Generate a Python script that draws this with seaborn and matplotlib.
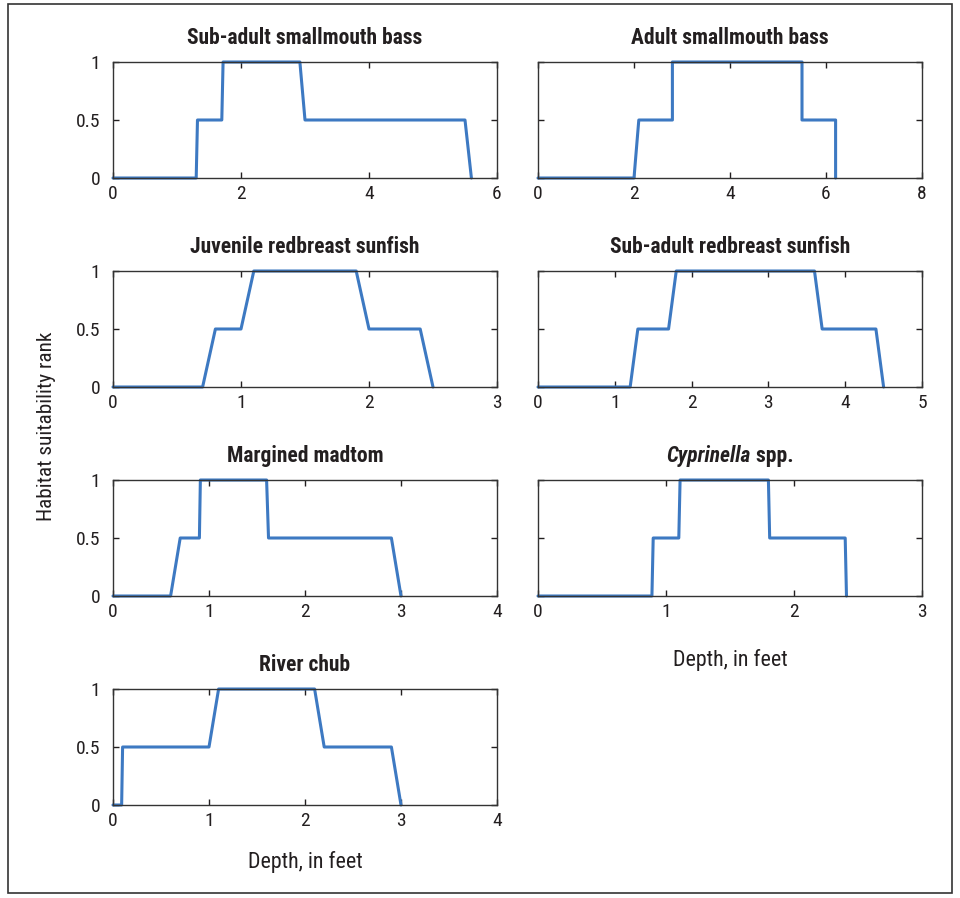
import matplotlib
matplotlib.use("Agg")
import matplotlib.pyplot as plt
import seaborn as sns
import pandas as pd
from matplotlib.patches import Rectangle

sns.set_theme(style="white")
plt.rcParams['font.family'] = ['Roboto Condensed', 'DejaVu Sans']

titles = ["Sub-adult smallmouth bass", "Adult smallmouth bass",
          "Juvenile redbreast sunfish", "Sub-adult redbreast sunfish",
          "Margined madtom", "Cyprinella| spp.", "River chub"]

sub_sm_bass_x = [0, 1.3, 1.32, 1.7, 1.72, 2.92, 3.0, 5.5, 5.6]
sub_sm_bass_y = [0, 0, 0.5, 0.5, 1, 1, 0.5, 0.5, 0]
adult_sm_bass_x = [0, 2.0, 2.1, 2.8, 2.8, 5.5, 5.5, 6.2, 6.2]
adult_sm_bass_y = [0, 0, 0.5, 0.5, 1, 1, 0.5, 0.5, 0]
juv_redbreast_x = [0, 0.7, 0.8, 1.0, 1.1, 1.9, 2.0, 2.4, 2.5]
juv_redbreast_y = [0, 0, 0.5, 0.5, 1, 1, 0.5, 0.5, 0]
sub_redbreast_x = [0, 1.2, 1.3, 1.7, 1.8, 3.6, 3.7, 4.4, 4.5]
sub_redbreast_y = [0, 0, 0.5, 0.5, 1, 1, 0.5, 0.5, 0]
madtom_x = [0, 0.6, 0.7, 0.9, 0.91, 1.6, 1.62, 2.9, 3.0]
madtom_y = [0, 0, 0.5, 0.5, 1, 1, 0.5, 0.5, 0]
cyprinella_x = [0, 0.89, 0.9, 1.1, 1.11, 1.8, 1.81, 2.4, 2.41]
cyprinella_y = [0, 0, 0.5, 0.5, 1, 1, 0.5, 0.5, 0]
river_chub_x = [0, 0.09, 0.1, 1.0, 1.1, 2.1, 2.2, 2.9, 3.0]
river_chub_y = [0, 0, 0.5, 0.5, 1, 1, 0.5, 0.5, 0]

xmaxes = [6, 8, 3, 5, 4, 3, 4]
xticks_list = [[0, 2, 4, 6], [0, 2, 4, 6, 8], [0, 1, 2, 3], [0, 1, 2, 3, 4, 5],
               [0, 1, 2, 3, 4], [0, 1, 2, 3], [0, 1, 2, 3, 4]]
series = [(sub_sm_bass_x, sub_sm_bass_y), (adult_sm_bass_x, adult_sm_bass_y),
          (juv_redbreast_x, juv_redbreast_y), (sub_redbreast_x, sub_redbreast_y),
          (madtom_x, madtom_y), (cyprinella_x, cyprinella_y), (river_chub_x, river_chub_y)]

W, H = 960, 898
fig = plt.figure(figsize=(9.6, 8.98), dpi=100)
fig.patches.append(Rectangle((8 / W, 1 - 893 / H), 944 / W, 889 / H, transform=fig.transFigure,
                             fill=False, edgecolor="#333333", linewidth=1.2))

lefts = [113, 538]
tops = [62, 271, 480, 689]
aw, ah = 384, 116
color = "#3d79c2"
tc = "#231f20"
tfs = 15.5

renderer = fig.canvas.get_renderer()
for i, (title, (xs, ys)) in enumerate(zip(titles, series)):
    r, c = divmod(i, 2)
    L, T = lefts[c], tops[r]
    ax = fig.add_axes([L / W, 1 - (T + ah) / H, aw / W, ah / H])
    df = pd.DataFrame({"x": xs, "y": ys})
    sns.lineplot(data=df, x="x", y="y", ax=ax, sort=False, color=color, linewidth=2.2,
                 clip_on=False, estimator=None)
    ax.set_xlim(0, xmaxes[i])
    ax.set_ylim(0, 1)
    ax.set_xticks(xticks_list[i])
    ax.set_yticks([0, 0.5, 1])
    if c == 0:
        ax.set_yticklabels(["0", "0.5", "1"])
    else:
        ax.set_yticklabels([])
    ax.set_xlabel("")
    ax.set_ylabel("")
    ax.tick_params(direction="in", length=4, width=1, colors=tc, labelsize=14,
                   top=True, right=True, bottom=True, left=True, pad=5)
    ax.tick_params(axis="y", pad=9)
    for s in ax.spines.values():
        s.set_color("#333333")
        s.set_linewidth(1.0)
    cx = (L + aw / 2) / W
    ty = 1 - (T - 24) / H
    if "|" in title:
        a, b = title.split("|")
        t1 = fig.text(0, ty, a, fontsize=tfs, fontweight="bold", style="italic", color=tc,
                      ha="left", va="center")
        t2 = fig.text(0, ty, b, fontsize=tfs, fontweight="bold", color=tc, ha="left", va="center")
        w1 = t1.get_window_extent(renderer).width / W
        w2 = t2.get_window_extent(renderer).width / W
        x0 = cx - (w1 + w2) / 2
        t1.set_x(x0)
        t2.set_x(x0 + w1)
    else:
        fig.text(cx, ty, title, fontsize=tfs, fontweight="bold", color=tc, ha="center", va="center")

fig.text(538 / W + aw / W / 2, 1 - 660 / H, "Depth, in feet", ha="center", va="center",
         fontsize=15.8, color=tc)
fig.text(113 / W + aw / W / 2, 1 - 862 / H, "Depth, in feet", ha="center", va="center",
         fontsize=15.8, color=tc)
fig.text(47 / W, 1 - 426 / H, "Habitat suitability rank", ha="center", va="center",
         rotation=90, fontsize=15.3, color=tc)

fig.savefig("out.png", dpi=100)
